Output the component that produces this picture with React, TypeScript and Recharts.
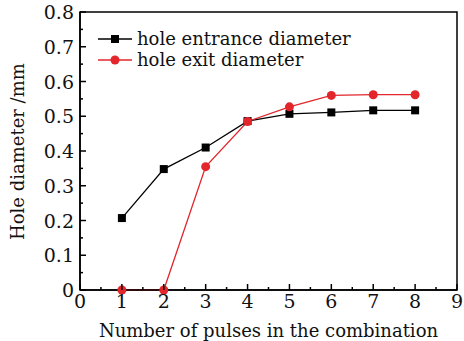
import { LineChart, Line, XAxis, YAxis, Legend, ReferenceArea } from "recharts";

const pulses = [1, 2, 3, 4, 5, 6, 7, 8];
const entranceDiameter = [0.207, 0.348, 0.41, 0.486, 0.507, 0.511, 0.517, 0.517];
const exitDiameter = [0, 0, 0.355, 0.485, 0.527, 0.56, 0.562, 0.562];

const xTicks = [0, 0.5, 1, 1.5, 2, 2.5, 3, 3.5, 4, 4.5, 5, 5.5, 6, 6.5, 7, 7.5, 8, 8.5, 9];
const yTicks = [0, 0.05, 0.1, 0.15, 0.2, 0.25, 0.3, 0.35, 0.4, 0.45, 0.5, 0.55, 0.6, 0.65, 0.7, 0.75, 0.8];

const data = pulses.map((p, i) => ({
  pulses: p,
  entrance: entranceDiameter[i],
  exit: exitDiameter[i]
}));

const font = "'DejaVu Serif', serif";
const RED = "#e3262b";

const isMajor = (v: number, step: number) => Math.abs(v / step - Math.round(v / step)) < 1e-6;

const XTick = (props: any) => {
  const { x, y, payload } = props;
  const major = isMajor(payload.value, 1);
  return (
    <g>
      <line x1={x} x2={x} y1={y - 6} y2={y - 6 - (major ? 6 : 3)} stroke="#000" strokeWidth={1.5} />
      {major && (
        <text x={x} y={y + 12} textAnchor="middle" fontSize={19} fontFamily={font} fill="#111">
          {payload.value}
        </text>
      )}
    </g>
  );
};

const YTick = (props: any) => {
  const { x, y, payload } = props;
  const major = isMajor(payload.value, 0.1);
  return (
    <g>
      <line x1={x + 6} x2={x + 6 + (major ? 6 : 3)} y1={y} y2={y} stroke="#000" strokeWidth={1.5} />
      {major && (
        <text x={x} y={y + 7} textAnchor="end" fontSize={19} fontFamily={font} fill="#111">
          {payload.value === 0 ? "0" : payload.value.toFixed(1)}
        </text>
      )}
    </g>
  );
};

const SquareDot = (props: any) => {
  const { cx, cy } = props;
  return <rect x={cx - 4} y={cy - 4} width={8} height={8} fill="#000" />;
};

const legendItems = [
  { label: "hole entrance diameter", color: "#000", shape: "square" },
  { label: "hole exit diameter", color: RED, shape: "circle" }
];

const LegendBox = () => (
  <svg width={300} height={50} style={{ display: "block" }}>
    {legendItems.map((item, i) => {
      const cy = 12 + i * 21;
      return (
        <g key={item.label}>
          <line x1={2} x2={36} y1={cy} y2={cy} stroke={item.color} strokeWidth={1.5} />
          {item.shape === "square" ? (
            <rect x={15} y={cy - 4} width={8} height={8} fill={item.color} />
          ) : (
            <circle cx={19} cy={cy} r={4.5} fill={item.color} />
          )}
          <text x={41} y={cy + 6} fontSize={18} fontFamily={font} fill="#111">
            {item.label}
          </text>
        </g>
      );
    })}
  </svg>
);

export default function App() {
  return (
    <div style={{ position: "absolute", left: 0, top: 0, width: 464, height: 341, background: "#fff" }}>
      <LineChart width={464} height={341} data={data} margin={{ top: 12, right: 7, bottom: 0, left: 0 }}>
        <XAxis
          dataKey="pulses"
          type="number"
          domain={[0, 9]}
          ticks={xTicks}
          interval={0}
          tickSize={0}
          tickMargin={6}
          tickLine={false}
          tick={<XTick />}
          height={51}
          axisLine={{ stroke: "#000", strokeWidth: 1.5 }}
          label={{ value: "Number of pulses in the combination", position: "insideBottom", offset: 4, fontSize: 18, fontFamily: font, fill: "#111" }}
        />
        <YAxis
          type="number"
          domain={[0, 0.8]}
          ticks={yTicks}
          interval={0}
          tickSize={0}
          tickMargin={6}
          tickLine={false}
          tick={<YTick />}
          width={80}
          axisLine={{ stroke: "#000", strokeWidth: 1.5 }}
          label={{ value: "Hole diameter /mm", angle: -90, position: "insideLeft", offset: 18, dy: 89, fontSize: 18, fontFamily: font, fill: "#111" }}
        />
        <ReferenceArea x1={0} x2={9} y1={0} y2={0.8} fill="none" stroke="#000" strokeWidth={1.5} fillOpacity={0} />
        <Legend
          verticalAlign="middle"
          align="center"
          layout="horizontal"
          content={<LegendBox />}
          wrapperStyle={{ top: 27, left: 96, width: 300, height: 50 }}
        />
        <Line
          dataKey="entrance"
          stroke="#000"
          strokeWidth={1.3}
          dot={<SquareDot />}
          isAnimationActive={false}
        />
        <Line
          dataKey="exit"
          stroke={RED}
          strokeWidth={1.3}
          dot={{ r: 4.5, fill: RED, stroke: RED, strokeWidth: 0 }}
          isAnimationActive={false}
        />
      </LineChart>
    </div>
  );
}
